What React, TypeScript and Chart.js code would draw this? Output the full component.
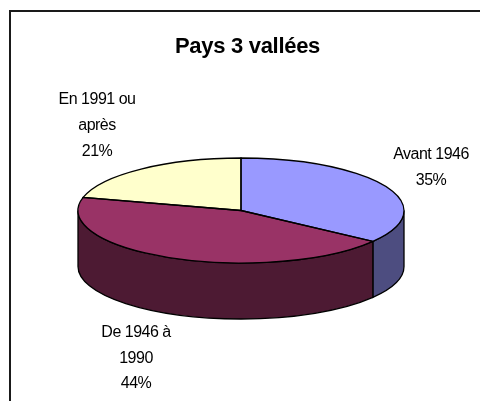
import React, { useEffect, useRef } from "react";
import { Chart, registerables } from "chart.js";

Chart.register(...registerables);

const titleText = "Pays 3 vallées";
const categories = ["Avant 1946", "De 1946 à 1990", "En 1991 ou après"];
const labelLines = [["Avant 1946"], ["De 1946 à", "1990"], ["En 1991 ou", "après"]];
const values = [35, 44, 21];
const topColors = ["#9999FF", "#993366", "#FFFFCC"];
const wallColors = ["#4D4D80", "#4D1A33", "#808066"];

const FONT = '"Liberation Sans", Arial, sans-serif';
const RX = 163;
const RY = 52.5;
const DEPTH = 56;
const labelCenters = [
  { x: 431, y: 155 },
  { x: 136, y: 332.5 },
  { x: 97, y: 100 },
];
const LINE_H = 25.7;

function applySquash(ctx: CanvasRenderingContext2D, cy: number, dy = 0) {
  ctx.translate(0, cy + dy);
  ctx.scale(1, RY / RX);
  ctx.translate(0, -cy);
}

const pie3d = {
  id: "pie3d",
  beforeDraw(chart: any) {
    const { ctx } = chart;
    ctx.save();
    ctx.strokeStyle = "#1a1a1a";
    ctx.lineWidth = 2;
    ctx.beginPath();
    ctx.moveTo(10, 401);
    ctx.lineTo(10, 11);
    ctx.lineTo(480, 11);
    ctx.stroke();
    ctx.restore();
  },
  beforeDatasetsDraw(chart: any) {
    const { ctx } = chart;
    const arcs = chart.getDatasetMeta(0).data;
    arcs.forEach((a: any, i: number) => {
      const s = Math.max(a.startAngle, 0);
      const e = Math.min(a.endAngle, Math.PI);
      if (e <= s) return;
      ctx.save();
      ctx.beginPath();
      const base = ctx.getTransform();
      applySquash(ctx, a.y);
      ctx.arc(a.x, a.y, a.outerRadius, s, e);
      ctx.setTransform(base);
      applySquash(ctx, a.y, DEPTH);
      ctx.arc(a.x, a.y, a.outerRadius, e, s, true);
      ctx.closePath();
      ctx.setTransform(base);
      ctx.fillStyle = wallColors[i];
      ctx.fill();
      ctx.strokeStyle = "#000";
      ctx.lineWidth = 1.3;
      ctx.stroke();
      ctx.restore();
    });
    ctx.save();
    applySquash(ctx, arcs[0].y);
  },
  afterDatasetsDraw(chart: any) {
    const { ctx } = chart;
    ctx.restore();
    chart.getDatasetMeta(0).data.forEach((a: any) => {
      ctx.save();
      ctx.beginPath();
      const base = ctx.getTransform();
      applySquash(ctx, a.y);
      ctx.moveTo(a.x, a.y);
      ctx.arc(a.x, a.y, a.outerRadius, a.startAngle, a.endAngle);
      ctx.closePath();
      ctx.setTransform(base);
      ctx.strokeStyle = "#000";
      ctx.lineWidth = 1.3;
      ctx.stroke();
      ctx.restore();
    });
  },
  afterDraw(chart: any) {
    const { ctx } = chart;
    ctx.save();
    ctx.fillStyle = "#000";
    ctx.textAlign = "center";
    ctx.textBaseline = "middle";
    ctx.font = `bold 22px ${FONT}`;
    (ctx as any).letterSpacing = "-0.3px";
    ctx.fillText(titleText, 247.5, 47);
    ctx.font = `16px ${FONT}`;
    (ctx as any).letterSpacing = "-0.5px";
    labelLines.forEach((lines, i) => {
      const all = [...lines, `${values[i]}%`];
      all.forEach((t, j) => {
        ctx.fillText(t, labelCenters[i].x, labelCenters[i].y + j * LINE_H);
      });
    });
    ctx.restore();
  },
};

export default function App() {
  const ref = useRef<HTMLCanvasElement>(null);
  useEffect(() => {
    document.body.style.margin = "0";
    const chart = new Chart(ref.current!, {
      type: "pie",
      plugins: [pie3d],
      data: {
        labels: categories,
        datasets: [
          {
            data: values,
            backgroundColor: topColors,
            borderWidth: 0,
            clip: false,
          } as any,
        ],
      },
      options: {
        responsive: false,
        animation: false,
        radius: RX,
        layout: { padding: { left: 2, top: 70, bottom: 50 } },
        events: [],
        plugins: {
          legend: { display: false },
          tooltip: { enabled: false },
          title: { display: false },
        },
      } as any,
    });
    return () => chart.destroy();
  }, []);
  return <canvas ref={ref} width={480} height={401} style={{ display: "block" }} />;
}
